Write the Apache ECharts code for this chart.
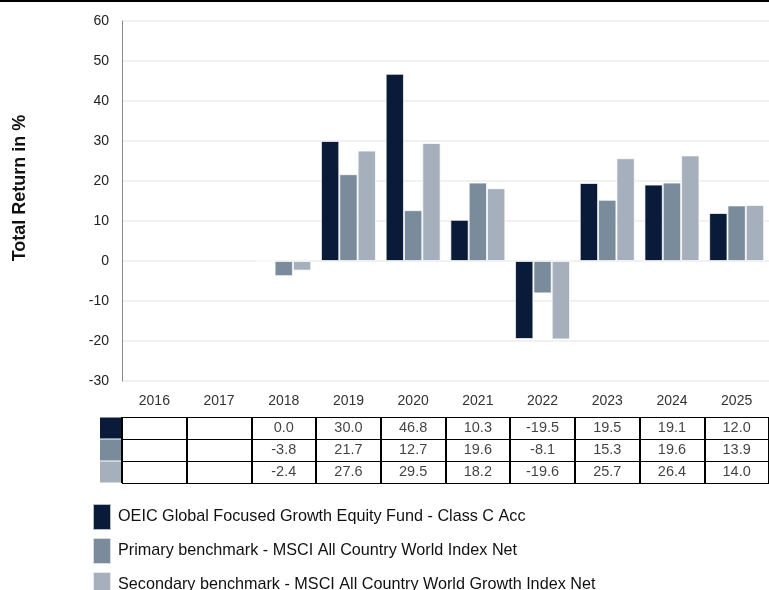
<!DOCTYPE html>
<html>
<head>
<meta charset="utf-8">
<script src="https://cdn.jsdelivr.net/npm/echarts@6/dist/echarts.min.js"></script>
<style>
html,body{margin:0;padding:0;background:#fff;}
#main{width:769px;height:590px;}
</style>
</head>
<body>
<div id="main"></div>
<script>
var years = ['2016','2017','2018','2019','2020','2021','2022','2023','2024','2025'];
var fund = [null, null, 0.0, 30.0, 46.8, 10.3, -19.5, 19.5, 19.1, 12.0];
var primary = [null, null, -3.8, 21.7, 12.7, 19.6, -8.1, 15.3, 19.6, 13.9];
var secondary = [null, null, -2.4, 27.6, 29.5, 18.2, -19.6, 25.7, 26.4, 14.0];
var seriesNames = [
  'OEIC Global Focused Growth Equity Fund - Class C Acc',
  'Primary benchmark - MSCI All Country World Index Net',
  'Secondary benchmark - MSCI All Country World Growth Index Net'
];
var colors = ['#0a1b3a', '#7a8b9b', '#a5b0bc'];
var yTicks = {min: -30, max: 60, interval: 10};
var axisTitle = 'Total Return in %';

var FONT = '"Liberation Sans", Arial, Helvetica, sans-serif';
var allSeries = [fund, primary, secondary];

var tableData = [];
allSeries.forEach(function (arr, r) {
  arr.forEach(function (v, c) {
    if (v !== null) tableData.push([c, r, v]);
  });
});

var chart = echarts.init(document.getElementById('main'));
var option = {
  animation: false,
  backgroundColor: '#fff',
  textStyle: {fontFamily: FONT},
  color: colors,
  grid: [
    {left: 122, right: 0, top: 21, height: 360, containLabel: false},
    {left: 122, right: 0, top: 417, height: 66, containLabel: false}
  ],
  xAxis: [
    {
      type: 'category', gridIndex: 0, data: years,
      axisLine: {show: false}, axisTick: {show: false},
      axisLabel: {color: '#333', fontSize: 14, margin: 13, fontFamily: FONT}
    },
    {
      type: 'category', gridIndex: 1, data: years,
      axisLine: {show: false}, axisTick: {show: false}, axisLabel: {show: false},
      splitLine: {show: true, lineStyle: {color: '#000', width: 2}}
    }
  ],
  yAxis: [
    {
      type: 'value', gridIndex: 0, min: yTicks.min, max: yTicks.max, interval: yTicks.interval,
      axisLine: {show: true, lineStyle: {color: '#8a8a8a', width: 1}},
      axisTick: {show: false},
      axisLabel: {color: '#222', fontSize: 14, margin: 13, fontFamily: FONT},
      splitLine: {show: true, lineStyle: {color: '#ececec', width: 1.5}}
    },
    {
      type: 'category', gridIndex: 1, data: seriesNames, inverse: true,
      axisLine: {show: false}, axisTick: {show: false},
      splitLine: {show: true, lineStyle: {color: '#000', width: 1}},
      axisLabel: {
        margin: 1,
        formatter: function (val, idx) { return '{s' + idx + '|}'; },
        rich: {
          s0: {backgroundColor: colors[0], width: 21, height: 21},
          s1: {backgroundColor: colors[1], width: 21, height: 21},
          s2: {backgroundColor: colors[2], width: 21, height: 21}
        }
      }
    }
  ],
  legend: {
    orient: 'vertical', left: 92, top: 503, height: 130, padding: 0,
    itemWidth: 18, itemHeight: 26, itemGap: 6, icon: 'rect',
    textStyle: {fontSize: 16.2, color: '#111', fontFamily: FONT, padding: [0, 0, 0, 2]},
    data: seriesNames
  },
  graphic: [
    {type: 'rect', shape: {x: 0, y: 0, width: 769, height: 2}, style: {fill: '#000'}},
    {
      type: 'text', x: 20, y: 188, rotation: Math.PI / 2,
      style: {text: axisTitle, font: 'bold 18px ' + FONT, fill: '#111', align: 'center', verticalAlign: 'middle'}
    }
  ],
  series: allSeries.map(function (arr, i) {
    return {
      name: seriesNames[i], type: 'bar', xAxisIndex: 0, yAxisIndex: 0,
      data: arr, barGap: '0%', barCategoryGap: '15%',
      itemStyle: {color: colors[i], borderColor: 'rgba(255,255,255,0.7)', borderWidth: 1}
    };
  }).concat([{
    type: 'scatter', xAxisIndex: 1, yAxisIndex: 1,
    data: tableData, symbolSize: 1, itemStyle: {color: 'rgba(0,0,0,0)'},
    encode: {x: 0, y: 1},
    label: {
      show: true, position: 'inside', color: '#111', fontSize: 14.5, fontFamily: FONT,
      formatter: function (p) { return p.value[2].toFixed(1); }
    },
    silent: true
  }])
};
chart.setOption(option);
</script>
</body>
</html>
